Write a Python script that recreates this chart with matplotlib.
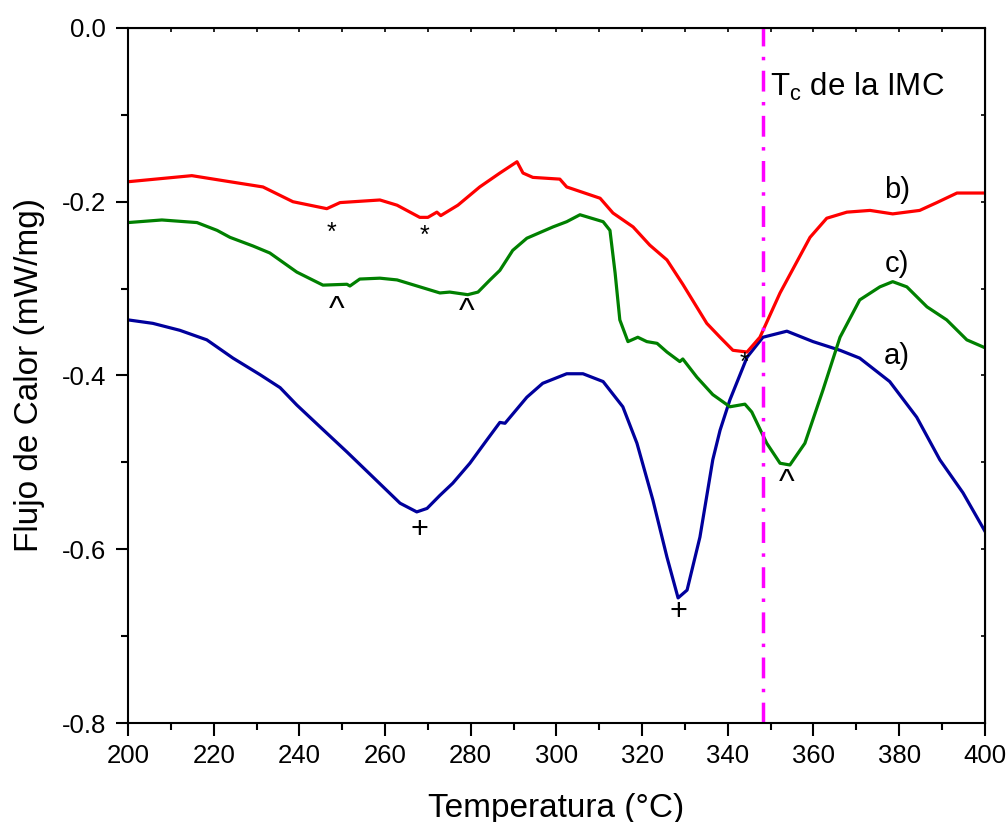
import numpy as np
import matplotlib.pyplot as plt
from matplotlib.ticker import MultipleLocator, FormatStrFormatter

plt.rcParams['font.family'] = ['Liberation Sans', 'DejaVu Sans']
plt.rcParams['mathtext.fontset'] = 'custom'
plt.rcParams['mathtext.rm'] = 'Liberation Sans'
plt.rcParams['mathtext.default'] = 'regular'
plt.rcParams['axes.unicode_minus'] = False

# curve a) - blue
xa = [200, 205.8, 212.1, 218.4, 224.5, 230.8, 235.5, 239.4, 244.8, 251.1, 257.2, 263.5, 267.4,
      269.8, 272.8, 275.8, 279.8, 283.8, 286.8, 288.0, 293.1, 296.8, 302.4, 306.2, 310.9, 315.5,
      318.8, 322.5, 325.8, 328.4, 330.5, 333.5, 336.5, 338.2, 340.5, 344.5, 348.2, 353.8, 359.9,
      366.2, 370.8, 377.8, 384.1, 389.5, 394.9, 400]
ya = [-0.336, -0.340, -0.348, -0.359, -0.380, -0.399, -0.414, -0.434, -0.459, -0.488, -0.517,
      -0.547, -0.557, -0.553, -0.538, -0.524, -0.501, -0.474, -0.454, -0.455, -0.425, -0.409,
      -0.398, -0.398, -0.407, -0.436, -0.478, -0.543, -0.609, -0.656, -0.647, -0.586, -0.497,
      -0.463, -0.428, -0.379, -0.356, -0.349, -0.361, -0.371, -0.380, -0.407, -0.448, -0.497,
      -0.535, -0.579]

# curve b) - red
xb = [200, 214.9, 223.8, 231.5, 238.5, 246.4, 249.5, 258.8, 262.8, 268.1, 270.0, 272.1, 273.0,
      277.0, 282.1, 286.8, 290.8, 292.2, 294.5, 300.8, 302.4, 310.2, 313.2, 317.9, 321.8, 325.8,
      329.5, 335.1, 338.2, 341.2, 344.5, 347.5, 352.2, 359.2, 363.1, 367.8, 373.2, 378.5, 384.8,
      388.8, 393.5, 400]
yb = [-0.177, -0.170, -0.177, -0.183, -0.200, -0.208, -0.201, -0.198, -0.204, -0.218, -0.218,
      -0.212, -0.216, -0.204, -0.183, -0.167, -0.154, -0.167, -0.172, -0.174, -0.183, -0.196,
      -0.213, -0.229, -0.250, -0.267, -0.295, -0.340, -0.356, -0.371, -0.373, -0.356, -0.305,
      -0.241, -0.219, -0.212, -0.210, -0.214, -0.210, -0.201, -0.190, -0.190]

# curve c) - green
xc = [200, 207.9, 216.1, 220.8, 223.8, 229.2, 233.1, 239.4, 245.5, 251.1, 251.8, 254.1, 258.8,
      262.8, 268.8, 272.8, 275.1, 279.3, 281.7, 284.5, 286.8, 289.8, 293.1, 299.2, 302.4, 305.5,
      310.9, 312.5, 313.7, 314.8, 316.7, 319.0, 321.1, 323.5, 325.8, 328.8, 329.5, 332.8, 336.5,
      340.5, 344.0, 345.6, 349.1, 352.2, 354.5, 358.0, 362.2, 366.2, 370.8, 375.5, 378.5, 381.8,
      386.5, 391.1, 395.8, 400]
yc = [-0.224, -0.221, -0.224, -0.233, -0.241, -0.251, -0.259, -0.281, -0.296, -0.295, -0.297,
      -0.289, -0.288, -0.290, -0.299, -0.305, -0.304, -0.307, -0.304, -0.290, -0.279, -0.256,
      -0.242, -0.229, -0.223, -0.215, -0.223, -0.233, -0.282, -0.336, -0.361, -0.356, -0.361,
      -0.363, -0.373, -0.384, -0.381, -0.402, -0.422, -0.436, -0.433, -0.442, -0.478, -0.501,
      -0.503, -0.478, -0.417, -0.356, -0.313, -0.298, -0.292, -0.298, -0.321, -0.336, -0.359,
      -0.368]

tc_x = 348.2

# peak symbols
sym_text = ['*', '*', '*', '^', '^', '^', '+', '+']
sym_x = [247.4, 269.3, 344.0, 248.8, 279.0, 353.8, 268.0, 328.4]
sym_y = [-0.236, -0.239, -0.385, -0.325, -0.327, -0.524, -0.578, -0.672]
sym_size = [18, 18, 18, 24, 24, 24, 22, 22]

curve_labels = ['a)', 'b)', 'c)']
label_x = [379.5, 379.5, 379.5]
label_y = [-0.378, -0.186, -0.272]

fig = plt.figure(figsize=(10.08, 8.22), dpi=100)
ax = fig.add_axes([0.127, 0.1204, 0.850, 0.8456])

ax.plot(xa, ya, color='#00009C', lw=2.3)
ax.plot(xb, yb, color='#FF0000', lw=2.3)
ax.plot(xc, yc, color='#008000', lw=2.3)
ax.axvline(tc_x, color='#FF00FF', lw=2.5, linestyle=(0, (6, 3, 1, 3)))

for t, x, y, s in zip(sym_text, sym_x, sym_y, sym_size):
    ax.text(x, y, t, ha='center', va='center', fontsize=s)

for t, x, y in zip(curve_labels, label_x, label_y):
    ax.text(x, y, t, ha='center', va='center', fontsize=21)

ax.text(349.8, -0.068, r'T$_c$ de la IMC', ha='left', va='center', fontsize=22.5)

ax.set_xlim(200, 400)
ax.set_ylim(-0.8, 0.0)
ax.xaxis.set_major_locator(MultipleLocator(20))
ax.xaxis.set_minor_locator(MultipleLocator(10))
ax.yaxis.set_major_locator(MultipleLocator(0.2))
ax.yaxis.set_minor_locator(MultipleLocator(0.1))
ax.yaxis.set_major_formatter(FormatStrFormatter('%.1f'))

for s in ax.spines.values():
    s.set_linewidth(1.5)

ax.tick_params(which='major', direction='out', length=9, width=1.5, labelsize=18.5,
               top=False, right=False)
ax.tick_params(which='minor', direction='out', length=5, width=1.5, top=False, right=False)
ax.tick_params(axis='x', which='major', pad=6)
ax.tick_params(axis='y', which='major', pad=7)

# short inward ticks on top and right
sec_x = ax.secondary_xaxis('top')
sec_x.xaxis.set_major_locator(MultipleLocator(20))
sec_x.xaxis.set_minor_locator(MultipleLocator(10))
sec_x.tick_params(which='both', direction='in', length=3, width=1.2, labeltop=False)
sec_y = ax.secondary_yaxis('right')
sec_y.yaxis.set_major_locator(MultipleLocator(0.2))
sec_y.yaxis.set_minor_locator(MultipleLocator(0.1))
sec_y.tick_params(which='both', direction='in', length=3, width=1.2, labelright=False)

ax.set_xlabel('Temperatura (°C)', fontsize=24, labelpad=18)
ax.set_ylabel('Flujo de Calor (mW/mg)', fontsize=24, labelpad=12)

fig.savefig('out.png', dpi=100)
